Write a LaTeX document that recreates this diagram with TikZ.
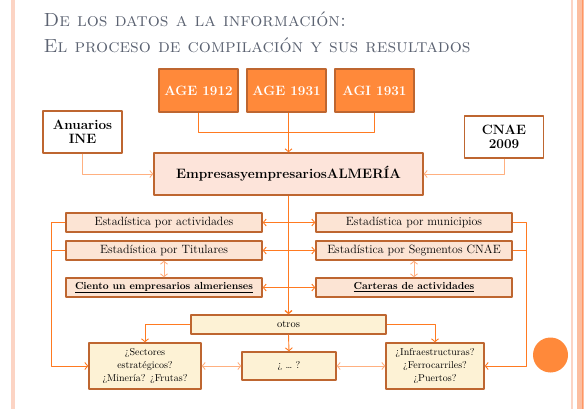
\documentclass[tikz,border=0pt]{standalone}
\usetikzlibrary{arrows,arrows.meta,positioning,calc}
\definecolor{titlegray}{RGB}{92,99,114}
\definecolor{framelight}{RGB}{252,212,196}
\definecolor{framedark}{RGB}{252,190,160}
\definecolor{framemid}{RGB}{255,150,100}
\definecolor{boxline}{RGB}{190,102,48}
\definecolor{srcfill}{RGB}{255,137,58}
\definecolor{empfill}{RGB}{253,228,218}
\definecolor{statfill}{RGB}{252,228,212}
\definecolor{askfill}{RGB}{253,242,213}
\definecolor{linkdark}{RGB}{255,122,33}
\definecolor{linklight}{RGB}{255,176,128}
\tikzset{
  box/.style={draw=boxline, line width=1.3pt, inner sep=2pt, align=center, text=black},
  srcbox/.style={box, fill=srcfill, text=white, font=\bfseries\fontsize{13.5}{15}\selectfont, minimum width=79pt, minimum height=43pt},
  insbox/.style={box, fill=white, font=\bfseries\fontsize{13.5}{14.5}\selectfont, minimum width=79pt, minimum height=42pt},
  empbox/.style={box, fill=empfill, font=\bfseries\fontsize{13.6}{15}\selectfont, minimum width=269pt, minimum height=42pt},
  statbox/.style={box, fill=statfill, font=\fontsize{12}{13}\selectfont, minimum width=196pt, minimum height=19pt},
  askbox/.style={box, fill=askfill, font=\fontsize{10}{13}\selectfont},
  link/.style={draw=linkdark, line width=0.9pt},
  softlink/.style={draw=linklight, line width=0.9pt}
}
\begin{document}
\begin{tikzpicture}[x=1pt, y=-1pt, >={Straight Barb[length=3pt,width=7pt]}, line join=round]
\useasboundingbox (0,0) rectangle (587,409);
\fill[framelight] (11,0) rectangle (15,409);
\fill[framelight] (571,0) rectangle (573,409);
\fill[framedark] (577,0) rectangle (584,409);
\fill[framemid] (581.5,0) rectangle (582.5,409);
\fill[srcfill] (550.5,355) circle (17.5);
\node[anchor=base west, text=titlegray, font=\fontsize{19}{23}\selectfont\scshape] (title1) at (40,27) {De los datos a la información:};
\node[anchor=base west, text=titlegray, font=\fontsize{19}{23}\selectfont\scshape] (title2) at (40,53) {El proceso de compilación y sus resultados};
\node[srcbox] (age12) at (198.5,90.5) {AGE 1912};
\node[srcbox] (age31) at (286.5,90.5) {AGE 1931};
\node[srcbox] (agi31) at (374.5,90.5) {AGI 1931};
\node[insbox] (ine) at (82.5,132) {Anuarios\\INE};
\node[insbox] (cnae) at (504,137) {CNAE\\2009};
\node[empbox] (emp) at (288.5,174) {EmpresasyempresariosALMERÍA};
\node[statbox] (act) at (164,222.5) {Estadística por actividades};
\node[statbox] (tit) at (164,250.5) {Estadística por Titulares};
\node[statbox, font=\bfseries\fontsize{10.2}{12}\selectfont] (cien) at (164,287.5) {\underline{Ciento un empresarios almerienses}};
\node[statbox] (mun) at (414,222.5) {Estadística por municipios};
\node[statbox] (seg) at (414,250.5) {Estadística por Segmentos CNAE};
\node[statbox, font=\bfseries\fontsize{10.2}{12}\selectfont] (cart) at (414,287.5) {\underline{Carteras de actividades}};
\node[askbox, minimum width=195pt, minimum height=19pt, font=\fontsize{10.5}{12}\selectfont] (otros) at (288.5,324.5) {otros};
\node[askbox, minimum width=112pt, minimum height=46pt] (sect) at (145,366) {¿Sectores\\estratégicos?\\¿Minería? ¿Frutas?};
\node[askbox, minimum width=94pt, minimum height=28pt] (dots) at (289,366) {¿ … ?};
\node[askbox, minimum width=98pt, minimum height=46pt] (infra) at (435,366) {¿Infraestructuras?\\¿Ferrocarriles?\\¿Puertos?};
\coordinate (topbus) at (0,132);
\coordinate (lbus) at (51,0);
\coordinate (rbus) at (526,0);
\draw[link] (age12.south) -- (age12.south |- topbus) -- (agi31.south |- topbus) -- (agi31.south);
\draw[link, ->] (age31.south -| emp.north) -- (emp.north);
\draw[softlink, ->] (ine.south) |- (emp.west);
\draw[softlink, ->] (cnae.south) |- (emp.east);
\draw[link, line width=1.3pt, ->] (emp.south) -- (otros.north);
\foreach \n in {act,tit,cien}
  \draw[link, ->] (\n.east -| emp.south) -- (\n.east);
\foreach \n in {mun,seg,cart}
  \draw[link, ->] (\n.west -| emp.south) -- (\n.west);
\draw[softlink, <->] (tit.south) -- (cien.north);
\draw[softlink, <->] (seg.south) -- (cart.north);
\draw[link, ->] (act.west) -- (act.west -| lbus) -- (sect.west -| lbus) -- (sect.west);
\draw[link] (tit.west) -- (tit.west -| lbus);
\draw[link, ->] (mun.east) -- (mun.east -| rbus) -- (infra.east -| rbus) -- (infra.east);
\draw[link] (seg.east) -- (seg.east -| rbus);
\draw[link, ->] (otros.west) -| (sect.north);
\draw[link, ->] (otros.east) -| (infra.north);
\draw[link, ->] (otros.south) -- (dots.north);
\draw[softlink, <->] (sect.east) -- (dots.west);
\draw[softlink, <->] (dots.east) -- (infra.west);
\end{tikzpicture}
\end{document}
